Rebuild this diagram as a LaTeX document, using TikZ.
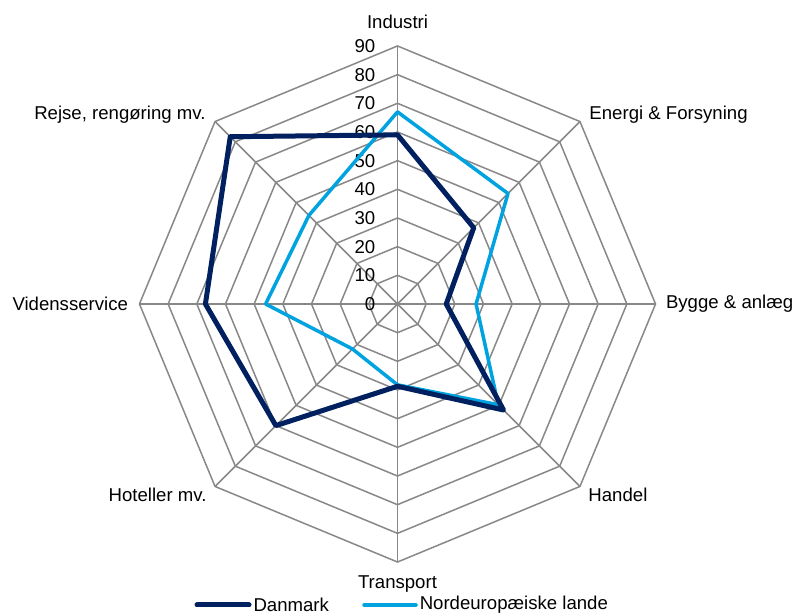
\documentclass[tikz,border=0pt]{standalone}
\usepackage{fontspec}
\setmainfont{Liberation Sans}
\usetikzlibrary{positioning,calc}
\definecolor{dkblue}{RGB}{0,32,96}
\definecolor{ltblue}{RGB}{0,163,224}
\definecolor{gridgray}{RGB}{136,136,136}

\begin{document}
\begin{tikzpicture}[x=1pt,y=1pt,font=\fontsize{18.6}{22}\selectfont,
    gridline/.style={draw=gridgray,line width=1.5pt},
    dkline/.style={draw=dkblue,line width=5pt,line join=round},
    ltline/.style={draw=ltblue,line width=3.5pt,line join=round},
    ticklab/.style={anchor=east,inner sep=0pt}]
            \useasboundingbox (0,0) rectangle (795,615);
            \coordinate (c) at (397.5,311);
            \begin{scope}[shift={(c)}]
            % rings and spokes
            \foreach \r in {1,...,9}
                \draw[gridline] (90:\r*28.67) -- (45:\r*28.67) -- (0:\r*28.67)
                    -- (-45:\r*28.67) -- (-90:\r*28.67) -- (-135:\r*28.67)
                    -- (180:\r*28.67) -- (135:\r*28.67) -- cycle;
            \foreach \i in {1,...,8}
                \coordinate (ax\i) at ({135-45*\i}:258);
            \foreach \i in {1,...,8}
                \draw[gridline] (0,0) -- (ax\i);
            % scale
            \foreach \t in {0,10,...,90}
                \node[ticklab] (t\t) at (-22,\t*2.867) {\t};
            % series
            \foreach \v [count=\i] in {59,37.6,17,52.3,28.7,60,67,82.5}
                \coordinate (dk\i) at ({135-45*\i}:{\v*2.867});
            \foreach \v [count=\i] in {67,54.5,27.4,49.7,28.2,22.2,46,43.7}
                \coordinate (lt\i) at ({135-45*\i}:{\v*2.867});
            \draw[ltline] (lt1) -- (lt2) -- (lt3) -- (lt4) -- (lt5) -- (lt6) -- (lt7) -- (lt8) -- cycle;
            \draw[dkline] (dk1) -- (dk2) -- (dk3) -- (dk4) -- (dk5) -- (dk6) -- (dk7) -- (dk8) -- cycle;
            \end{scope}
            % category labels
            \node[anchor=base,yshift=17pt] (l1) at (ax1) {Industri};
            \node[anchor=base west,xshift=6pt,yshift=2pt] (l2) at (ax2) {Energi \& Forsyning};
            \node[anchor=west,xshift=7pt] (l3) at (ax3) {Bygge \& anlæg};
            \node[anchor=north west,xshift=5pt,yshift=2pt] (l4) at (ax4) {Handel};
            \node[anchor=north,yshift=-10pt] (l5) at (ax5) {Transport};
            \node[anchor=north east,xshift=-5pt,yshift=2pt] (l6) at (ax6) {Hoteller mv.};
            \node[anchor=east,xshift=-8pt] (l7) at (ax7) {Vidensservice};
            \node[anchor=base east,xshift=-6pt,yshift=2pt] (l8) at (ax8) {Rejse, rengøring mv.};
            % legend
            \coordinate (dkleg) at (197,10);
            \draw[dkline,line cap=round] (dkleg) -- ++(52,0) node[anchor=west,inner sep=2pt] (dklab) {Danmark};
            \coordinate (ltleg) at (364,10);
            \draw[ltline,line cap=round] (ltleg) -- ++(52,0) node[anchor=west,inner sep=2pt] (ltlab) {Nordeuropæiske lande};
        \end{tikzpicture}
\end{document}
